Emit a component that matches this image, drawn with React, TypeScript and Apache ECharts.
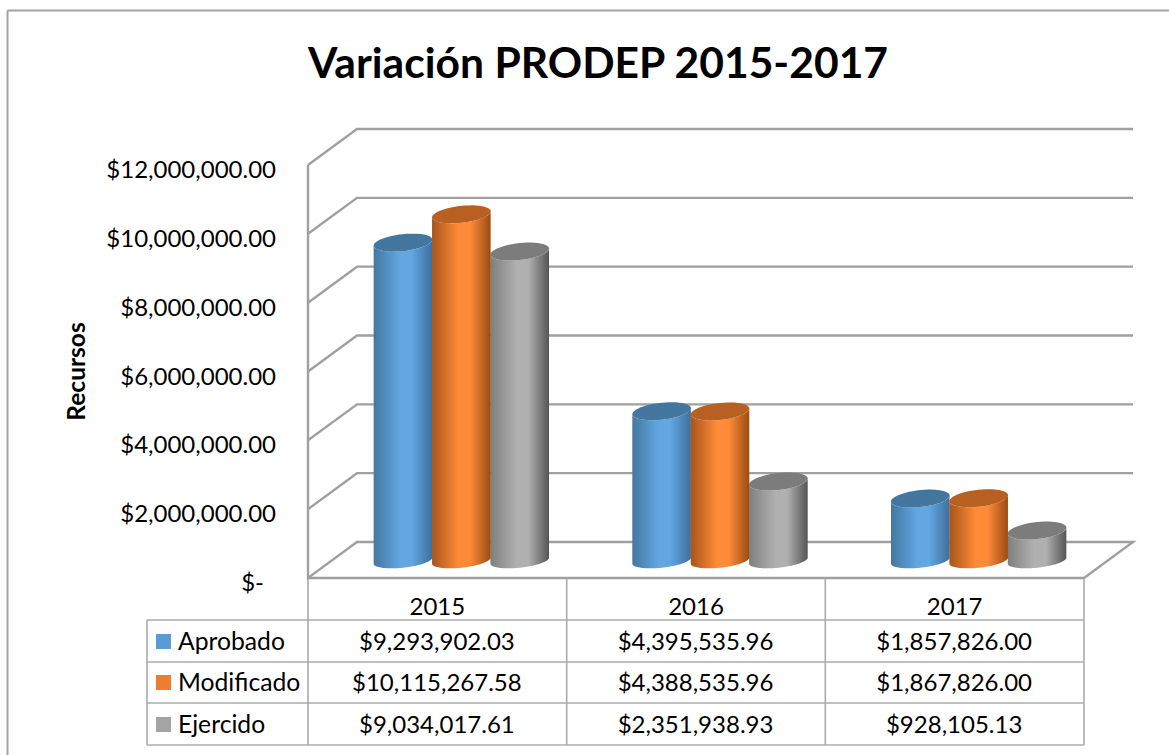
import React, { useEffect, useRef } from "react";
import * as echarts from "echarts";

const categories = ["2015", "2016", "2017"];
const seriesNames = ["Aprobado", "Modificado", "Ejercido"];
const aprobado = [9293902.03, 4395535.96, 1857826.0];
const modificado = [10115267.58, 4388535.96, 1867826.0];
const ejercido = [9034017.61, 2351938.93, 928105.13];
const gridTicks = [0, 2000000, 4000000, 6000000, 8000000, 10000000, 12000000];

const FONT = "Lato";
const FS = 24;
const DEPTH_X = 49;
const DEPTH_Y = 36;
const GRID = { left: 308, top: 165, width: 776, height: 413 };

const money = (v: number) =>
  "$" + v.toLocaleString("en-US", { minimumFractionDigits: 2, maximumFractionDigits: 2 });

const palettes = [
  { edgeL: "#44789f", mid: "#62a6e2", edgeR: "#3d6f9c", top: "#44779f", swatch: "#5b9bd5" },
  { edgeL: "#a8551c", mid: "#ff8a37", edgeR: "#9a4c14", top: "#b85f22", swatch: "#ed7d31" },
  { edgeL: "#7f7f7f", mid: "#b0b0b0", edgeR: "#555555", top: "#7c7c7c", swatch: "#a5a5a5" },
];

function ellipsePoints(cx: number, cy: number, a: number, b: number, from: number, to: number) {
  const pts: number[][] = [];
  const S = 3;
  const n = 48;
  for (let i = 0; i <= n; i++) {
    const t = from + ((to - from) * i) / n;
    pts.push([cx + a * Math.cos(t), cy + b * Math.sin(t) - S * Math.cos(t)]);
  }
  return pts;
}

function cylinderSeries(idx: number, values: number[], z: number) {
  const pal = palettes[idx];
  return {
    type: "custom",
    name: seriesNames[idx],
    coordinateSystem: "cartesian2d",
    z,
    silent: true,
    data: values.map((v, i) => [i, v]),
    encode: { x: 0, y: 1 },
    renderItem: (_params: any, api: any) => {
      const base = api.coord([api.value(0), 0]);
      const top = api.coord([api.value(0), api.value(1)]);
      const band = api.size([1, 0])[0];
      const w = band * 0.2265;
      const cx = base[0] + DEPTH_X / 2 - 0.5 + (idx - 1) * (w - 0.2);
      const yb = base[1] - DEPTH_Y / 2 + 0.7;
      const yt = top[1] - DEPTH_Y / 2 + 2.5;
      const body = [
        ...ellipsePoints(cx, yb, w / 2, 7, 0, Math.PI),
        ...ellipsePoints(cx, yt, w / 2, 8.5, Math.PI, 0),
      ];
      return {
        type: "group",
        children: [
          {
            type: "polygon",
            shape: { points: body },
            style: {
              fill: new echarts.graphic.LinearGradient(0, 0, 1, 0, [
                { offset: 0, color: pal.edgeL },
                { offset: 0.45, color: pal.mid },
                { offset: 0.65, color: pal.mid },
                { offset: 1, color: pal.edgeR },
              ]),
            },
          },
          {
            type: "polygon",
            shape: { points: ellipsePoints(cx, yt, w / 2, 8.5, 0, Math.PI * 2) },
            style: { fill: pal.top },
          },
        ],
      };
    },
  };
}

const wallSeries = {
  type: "custom",
  coordinateSystem: "cartesian2d",
  z: 1,
  silent: true,
  data: gridTicks.map((t) => [0, t]),
  encode: { y: 1 },
  renderItem: (_params: any, api: any) => {
    const band = api.size([1, 0])[0];
    const left = api.coord([0, api.value(1)])[0] - band / 2;
    const right = left + band * categories.length;
    const y = api.coord([0, api.value(1)])[1];
    const yTop = api.coord([0, gridTicks[gridTicks.length - 1]])[1];
    const style = { stroke: "#a0a0a0", lineWidth: 2.4, fill: "none" };
    const pts =
      api.value(1) === 0
        ? [
            [left, yTop],
            [left, y],
            [left + DEPTH_X, y - DEPTH_Y],
            [right + DEPTH_X, y - DEPTH_Y],
            [right, y],
            [left, y],
          ]
        : [
            [left, y],
            [left + DEPTH_X, y - DEPTH_Y],
            [right + DEPTH_X, y - DEPTH_Y],
          ];
    return { type: "polyline", shape: { points: pts }, style };
  },
};

function tableGraphics() {
  const g: any[] = [];
  const line = { stroke: "#ababab", lineWidth: 1.6 };
  const rowY = [620, 662, 703, 745];
  const colX = [308, 566.7, 825.3, 1084];
  const rows = [aprobado, modificado, ejercido];
  const textMid = [640.5, 681.5, 723.5];
  const swatchY = [634, 675, 717];
  const add = (x1: number, y1: number, x2: number, y2: number) =>
    g.push({ type: "line", shape: { x1, y1, x2, y2 }, style: line, silent: true });

  colX.forEach((x) => add(x, 578, x, 745));
  add(147, 620, 147, 745);
  rowY.forEach((y) => add(147, y, 1084, y));

  seriesNames.forEach((name, r) => {
    g.push({
      type: "rect",
      shape: { x: 156, y: swatchY[r], width: 15, height: 15 },
      style: { fill: palettes[r].swatch },
      silent: true,
    });
    g.push({
      type: "text",
      x: 178,
      y: textMid[r],
      silent: true,
      style: { text: name, font: `24.7px ${FONT}`, fill: "#000", textAlign: "left", textVerticalAlign: "middle" },
    });
    rows[r].forEach((v, c) => {
      g.push({
        type: "text",
        x: (colX[c] + colX[c + 1]) / 2 - 0.5,
        y: textMid[r],
        silent: true,
        style: { text: money(v), font: `${FS}px ${FONT}`, fill: "#000", textAlign: "center", textVerticalAlign: "middle" },
      });
    });
  });
  const frame = { stroke: "#a3a3a3", lineWidth: 2 };
  g.push({ type: "line", shape: { x1: 7.5, y1: 10.5, x2: 1169, y2: 10.5 }, style: frame, silent: true });
  g.push({ type: "line", shape: { x1: 7.5, y1: 10.5, x2: 7.5, y2: 755 }, style: frame, silent: true });
  return g;
}

export default function App() {
  const ref = useRef<HTMLDivElement>(null);
  useEffect(() => {
    document.body.style.margin = "0";
    const chart = echarts.init(ref.current!, undefined, { renderer: "svg" });
    chart.setOption({
      animation: false,
      backgroundColor: "#fff",
      title: {
        text: "Variación PRODEP 2015-2017",
        left: 593,
        top: 56,
        textAlign: "center",
        textVerticalAlign: "middle",
        textStyle: { fontFamily: FONT, fontSize: 42.6, fontWeight: "bold", color: "#000" },
      },
      grid: GRID,
      xAxis: {
        type: "category",
        data: categories,
        axisLine: { show: false },
        axisTick: { show: false },
        axisLabel: { fontFamily: FONT, fontSize: FS, color: "#000", margin: 15 },
      },
      yAxis: {
        type: "value",
        min: 0,
        max: 12000000,
        interval: 2000000,
        name: "Recursos",
        nameLocation: "middle",
        nameGap: 220,
        nameRotate: 90,
        nameTextStyle: { fontFamily: FONT, fontSize: 24.5, fontWeight: "bold", color: "#000" },
        axisLine: { show: false },
        axisTick: { show: false },
        splitLine: { show: false },
        axisLabel: {
          fontFamily: FONT,
          fontSize: FS,
          color: "#000",
          margin: 32,
          padding: [7, 0, 0, 0],
          formatter: (v: number) => (v === 0 ? "{z|$-}" : money(v)),
          rich: { z: { fontFamily: FONT, fontSize: FS, color: "#000", padding: [0, 12, 0, 0] } },
        },
      },
      series: [
        wallSeries,
        cylinderSeries(0, aprobado, 2),
        cylinderSeries(2, ejercido, 3),
        cylinderSeries(1, modificado, 4),
      ],
      graphic: tableGraphics(),
    });
    return () => chart.dispose();
  }, []);
  return <div ref={ref} style={{ width: 1169, height: 755 }} />;
}
